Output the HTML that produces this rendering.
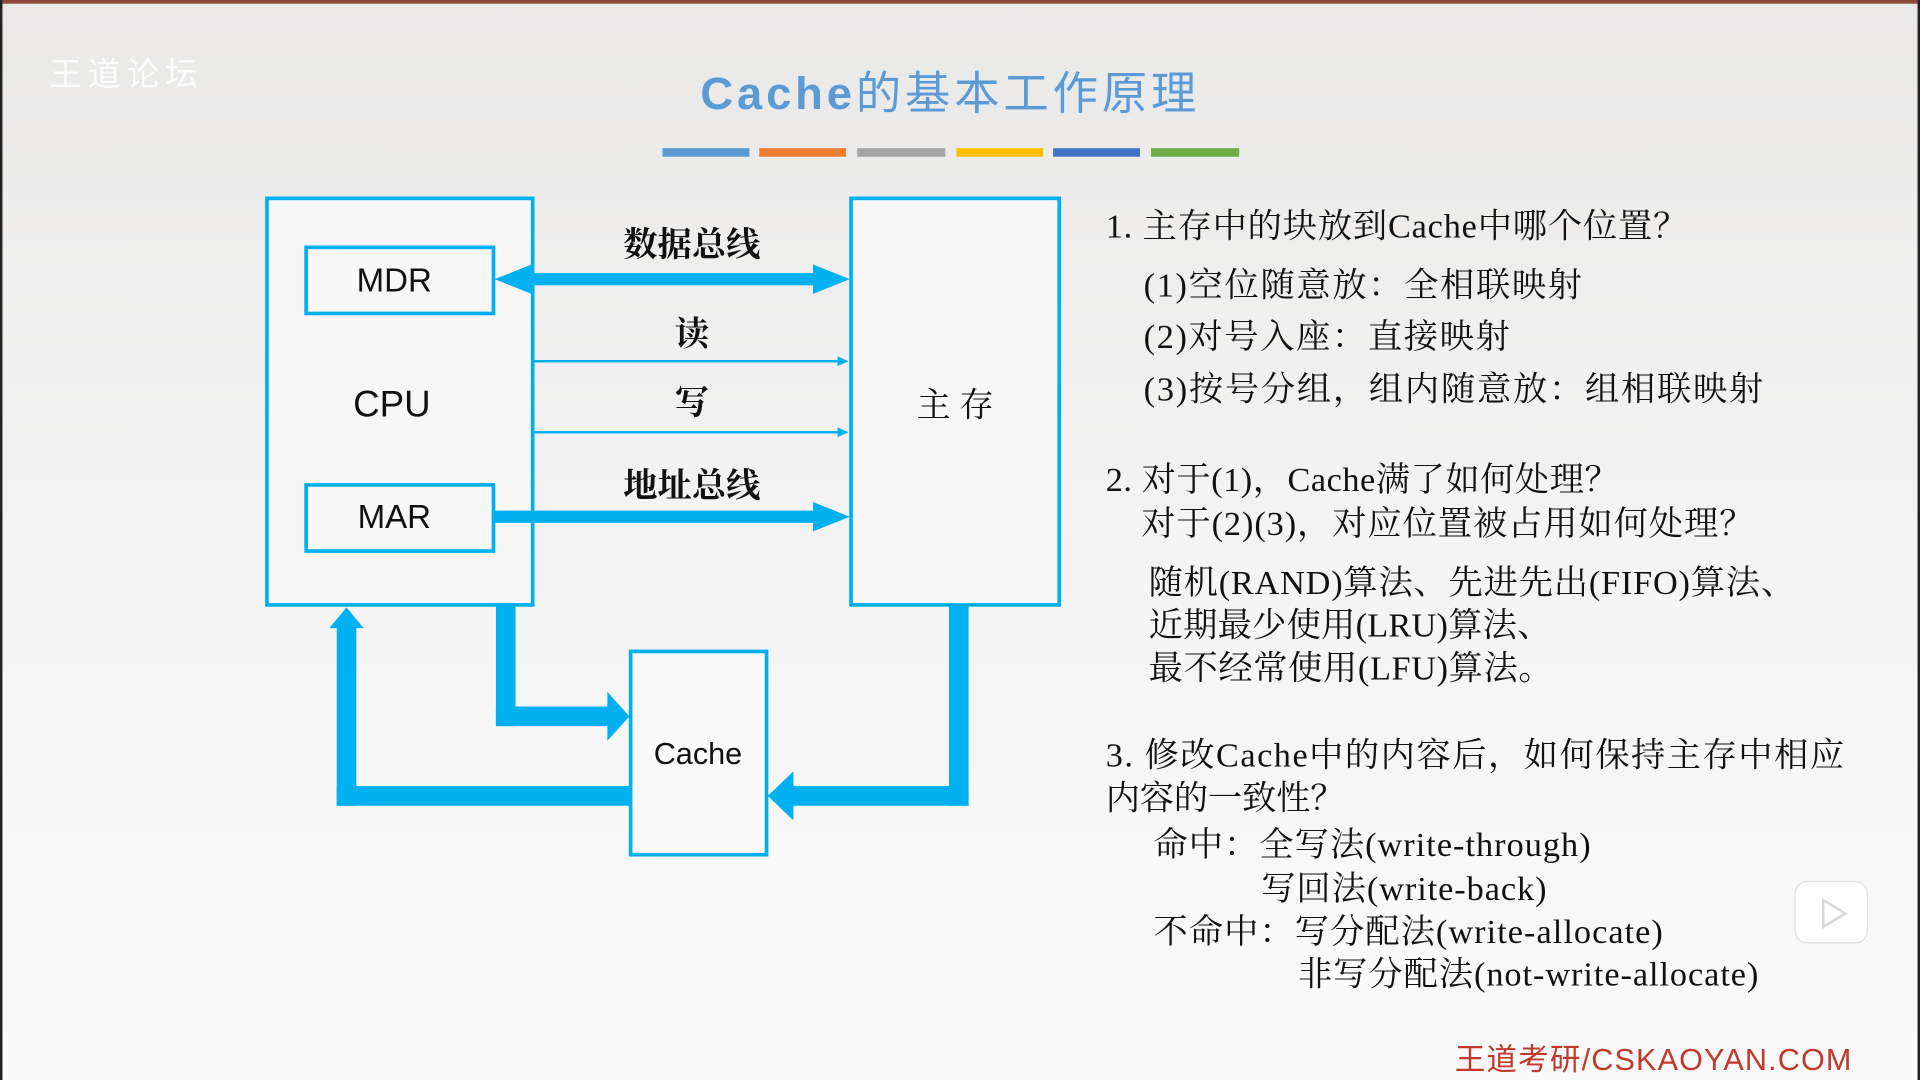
<!DOCTYPE html>
<html><head><meta charset="utf-8"><style>
html,body{margin:0;padding:0;width:1920px;height:1080px;overflow:hidden;background:#f2f2f2}
svg{display:block}
.s{font-family:"Liberation Serif","Noto Serif CJK SC",serif;font-size:28px;fill:#111}
.a{font-family:"Liberation Sans","Noto Sans CJK SC",sans-serif}
</style></head><body>
<svg width="1920" height="1080" viewBox="0 0 1568 882" xmlns="http://www.w3.org/2000/svg">
<defs><linearGradient id="bg" x1="0" y1="0" x2="0" y2="1"><stop offset="0" stop-color="#e9e8e7"/><stop offset="0.5" stop-color="#f4f4f4"/><stop offset="1" stop-color="#fafafa"/></linearGradient></defs>
<rect width="1568" height="882" fill="url(#bg)"/>
<rect x="0" y="0" width="1568" height="3" fill="#8b4a3a"/>
<rect x="0" y="0" width="2" height="882" fill="#222"/>
<rect x="1566" y="0" width="2" height="882" fill="#222"/>
<text x="40" y="70" class="a" font-size="27" fill="#ffffff" opacity="0.9" textLength="122">王道论坛</text>
<text x="572" y="89" class="a" font-size="37" fill="#5b9bd5" font-weight="bold" textLength="405">Cache<tspan font-weight="normal">的基本工作原理</tspan></text>
<rect x="541" y="121" width="71" height="7" fill="#5b9bd5"/>
<rect x="620" y="121" width="71" height="7" fill="#ed7d31"/>
<rect x="700" y="121" width="72" height="7" fill="#a5a5a5"/>
<rect x="781" y="121" width="71" height="7" fill="#ffc000"/>
<rect x="860" y="121" width="71" height="7" fill="#4472c4"/>
<rect x="940" y="121" width="72" height="7" fill="#70ad47"/>
<g fill="#f7f7f7" stroke="#00b0f0" stroke-width="3">
<rect x="218" y="162" width="217" height="332"/>
<rect x="695" y="162" width="170" height="332"/>
<rect x="250" y="202" width="153" height="54"/>
<rect x="250" y="396" width="153" height="54"/>
<rect x="515" y="532" width="111" height="166" fill="#fbfbfb"/>
</g>
<g fill="#00b0f0">
<rect x="430" y="223" width="236" height="10"/>
<polygon points="404,228 434,216 434,240"/>
<polygon points="694,228 664,216 664,240"/>
<rect x="403" y="417" width="262" height="10"/>
<polygon points="694,422 664,410 664,434"/>
<rect x="436" y="294" width="250" height="2"/>
<polygon points="693,295 684,291 684,299"/>
<rect x="436" y="352" width="250" height="2"/>
<polygon points="693,353 684,349 684,357"/>
<rect x="405" y="495" width="16" height="98"/>
<rect x="405" y="577" width="92" height="16"/>
<polygon points="514,585 496,565 496,605"/>
<rect x="275" y="642" width="240" height="16"/>
<rect x="275" y="512" width="16" height="146"/>
<polygon points="283,496 269,513 297,513"/>
<rect x="775" y="495" width="16" height="163"/>
<rect x="647" y="642" width="144" height="16"/>
<polygon points="627,650 648,630 648,670"/>
</g>
<text x="322" y="238" text-anchor="middle" class="a" font-size="27" fill="#111">MDR</text>
<text x="322" y="431" text-anchor="middle" class="a" font-size="27" fill="#111">MAR</text>
<text x="320" y="340" text-anchor="middle" class="a" font-size="30" fill="#111">CPU</text>
<text x="570" y="624" text-anchor="middle" class="a" font-size="25" fill="#111">Cache</text>
<text x="780" y="340" text-anchor="middle" class="s" font-size="38">主 存</text>
<g class="s" font-size="25" font-weight="bold" text-anchor="middle">
<text x="565" y="209">数据总线</text>
<text x="565" y="282">读</text>
<text x="565" y="338">写</text>
<text x="565" y="406">地址总线</text>
</g>
<g class="s">
<text x="903" y="194" textLength="475">1. 主存中的块放到Cache中哪个位置？</text>
<text x="934" y="242" textLength="358">(1)空位随意放：全相联映射</text>
<text x="934" y="284" textLength="299">(2)对号入座：直接映射</text>
<text x="934" y="327" textLength="506">(3)按号分组，组内随意放：组相联映射</text>
<text x="903" y="401" textLength="419">2. 对于(1)，Cache满了如何处理？</text>
<text x="932" y="437" textLength="500">对于(2)(3)，对应位置被占用如何处理？</text>
<text x="938" y="485" textLength="528">随机(RAND)算法、先进先出(FIFO)算法、</text>
<text x="938" y="520" textLength="329">近期最少使用(LRU)算法、</text>
<text x="938" y="555" textLength="330">最不经常使用(LFU)算法。</text>
<text x="903" y="626" textLength="603">3. 修改Cache中的内容后，如何保持主存中相应</text>
<text x="903" y="661" textLength="195">内容的一致性？</text>
<text x="942" y="699" textLength="357">命中：全写法(write-through)</text>
<text x="1030" y="735" textLength="233">写回法(write-back)</text>
<text x="942" y="770" textLength="416">不命中：写分配法(write-allocate)</text>
<text x="1060" y="805" textLength="376">非写分配法(not-write-allocate)</text>
</g>
<text x="1188" y="874" class="a" font-size="25" fill="#c0392b" textLength="324">王道考研/CSKAOYAN.COM</text>
<rect x="1466" y="720" width="59" height="50" rx="10" fill="#ffffff" stroke="#e0e0e0"/>
<polygon points="1489,735 1489,757 1507,746" fill="none" stroke="#d8d8d8" stroke-width="2"/>
</svg>
</body></html>
